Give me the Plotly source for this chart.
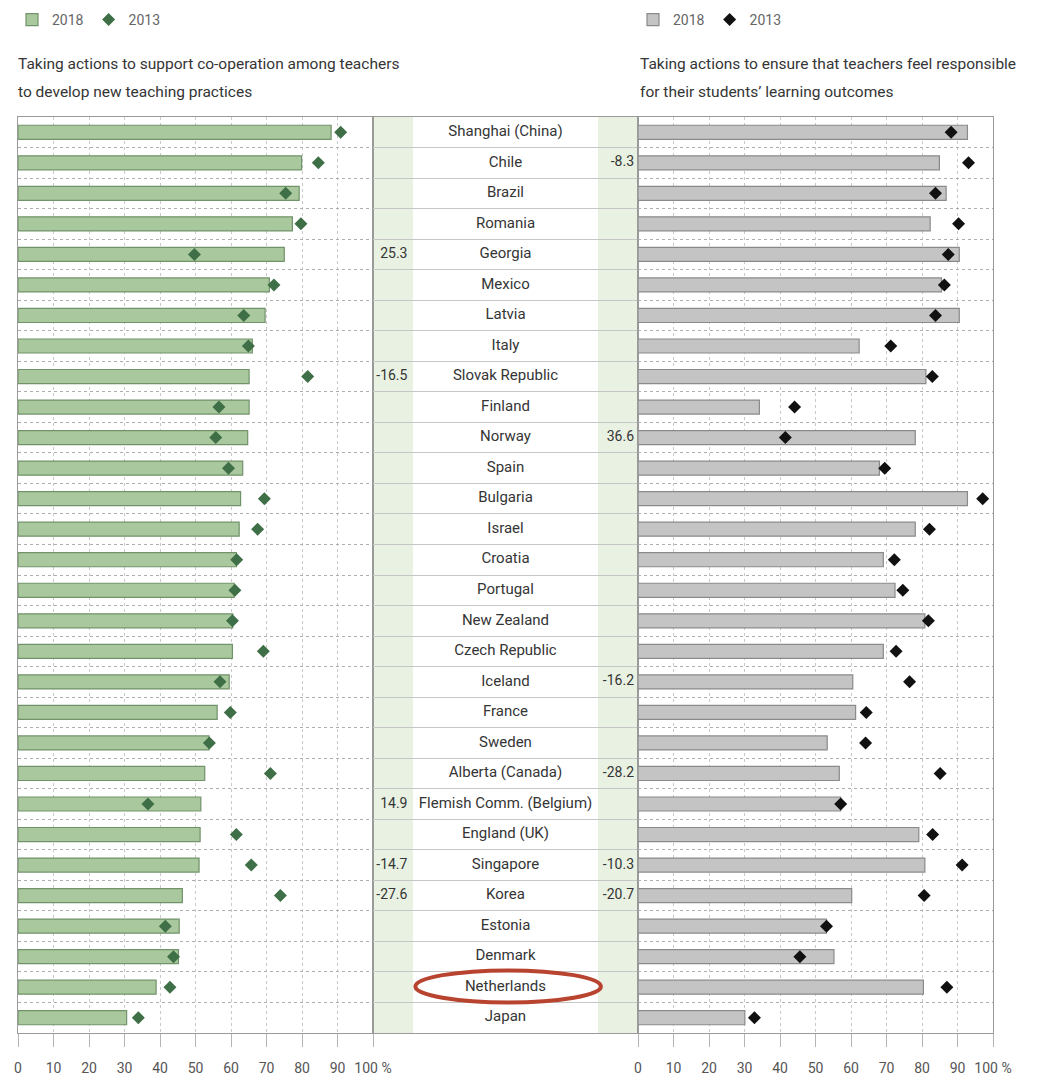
import plotly.graph_objects as go

countries = ["Shanghai (China)", "Chile", "Brazil", "Romania", "Georgia", "Mexico", "Latvia", "Italy",
             "Slovak Republic", "Finland", "Norway", "Spain", "Bulgaria", "Israel", "Croatia", "Portugal",
             "New Zealand", "Czech Republic", "Iceland", "France", "Sweden", "Alberta (Canada)",
             "Flemish Comm. (Belgium)", "England (UK)", "Singapore", "Korea", "Estonia", "Denmark",
             "Netherlands", "Japan"]

coop_2018 = [88.2, 79.9, 79.2, 77.3, 75.0, 70.8, 69.6, 66.0, 65.1, 65.1, 64.7, 63.3, 62.7, 62.3, 61.5,
             60.9, 60.5, 60.4, 59.5, 56.1, 53.8, 52.6, 51.5, 51.3, 51.0, 46.3, 45.4, 45.2, 38.9, 30.6]
coop_2013 = [90.9, 84.6, 75.4, 79.7, 49.7, 72.1, 63.6, 64.9, 81.6, 56.6, 55.7, 59.3, 69.4, 67.5, 61.6,
             61.1, 60.4, 69.1, 56.9, 59.8, 53.9, 71.1, 36.6, 61.5, 65.7, 73.9, 41.5, 43.8, 42.8, 33.9]
resp_2018 = [92.8, 84.9, 86.8, 82.3, 90.5, 85.5, 90.5, 62.3, 81.1, 34.2, 78.1, 68.0, 92.8, 78.1, 69.1,
             72.4, 80.8, 69.1, 60.5, 61.3, 53.3, 56.7, 57.1, 79.1, 80.8, 60.2, 53.1, 55.2, 80.4, 30.1]
resp_2013 = [88.2, 93.1, 83.8, 90.3, 87.4, 86.3, 83.8, 71.2, 82.9, 44.1, 41.5, 69.5, 97.1, 82.1, 72.2,
             74.6, 81.8, 72.7, 76.5, 64.3, 64.1, 85.1, 57.1, 83.0, 91.3, 80.6, 53.1, 45.6, 87.0, 32.8]

coop_diff = {"Georgia": "25.3", "Slovak Republic": "-16.5", "Flemish Comm. (Belgium)": "14.9",
             "Singapore": "-14.7", "Korea": "-27.6"}
resp_diff = {"Chile": "-8.3", "Norway": "36.6", "Iceland": "-16.2", "Alberta (Canada)": "-28.2",
             "Singapore": "-10.3", "Korea": "-20.7"}

tick_vals = [0, 10, 20, 30, 40, 50, 60, 70, 80, 90, 100]
tick_text = ["0", "10", "20", "30", "40", "50", "60", "70", "80", "90", "100 %"]

title_left = ["Taking actions to support co-operation among teachers", "to develop new teaching practices"]
title_right = ["Taking actions to ensure that teachers feel responsible", "for their students’ learning outcomes"]
highlight = "Netherlands"

W, H = 1048, 1077
FONT = "Roboto, Liberation Sans, sans-serif"
TXT = "#353535"
N = len(countries)

def px_x(p):
    return p / W

def px_y(p):
    return 1 - p / H

ydom = [px_y(1033), px_y(117)]

fig = go.Figure()

# left panel
fig.add_trace(go.Bar(x=coop_2018, y=countries, orientation="h", width=0.46,
                     marker=dict(color="#aac89d", line=dict(color="#71926a", width=1.2)),
                     name="2018", xaxis="x", yaxis="y", legend="legend"))
fig.add_trace(go.Scatter(x=coop_2013, y=countries, mode="markers",
                         marker=dict(symbol="diamond", size=10, color="#3e6f47"),
                         name="2013", xaxis="x", yaxis="y", legend="legend"))
# right panel
fig.add_trace(go.Bar(x=resp_2018, y=countries, orientation="h", width=0.46,
                     marker=dict(color="#c4c4c4", line=dict(color="#8a8a8a", width=1.2)),
                     name="2018", xaxis="x3", yaxis="y3", legend="legend2"))
fig.add_trace(go.Scatter(x=resp_2013, y=countries, mode="markers",
                         marker=dict(symbol="diamond", size=10, color="#111111"),
                         name="2013", xaxis="x3", yaxis="y3", legend="legend2"))
# centre labels
fig.add_trace(go.Scatter(x=[0.5] * N, y=countries, mode="text", text=countries,
                         textfont=dict(family=FONT, size=15, color=TXT), showlegend=False,
                         xaxis="x2", yaxis="y2", hoverinfo="skip"))
fig.add_trace(go.Scatter(x=[0.13] * N, y=countries, mode="text",
                         text=[coop_diff.get(c, "") for c in countries], textposition="middle left",
                         textfont=dict(family=FONT, size=14, color=TXT), showlegend=False,
                         xaxis="x2", yaxis="y2", hoverinfo="skip"))
fig.add_trace(go.Scatter(x=[0.985] * N, y=countries, mode="text",
                         text=[resp_diff.get(c, "") for c in countries], textposition="middle left",
                         textfont=dict(family=FONT, size=14, color=TXT), showlegend=False,
                         xaxis="x2", yaxis="y2", hoverinfo="skip"))

grid_common = dict(showline=True, mirror=True, linecolor="#9a9a9a", linewidth=1, zeroline=False,
                   automargin=False)
xnum = dict(range=[0, 100], tickvals=tick_vals, ticktext=tick_text, showgrid=True,
            gridcolor="#c9c9c9", griddash="dot", ticks="outside", ticklen=13, tickcolor="#b5b5b5",
            ticklabelstandoff=9, tickfont=dict(family=FONT, size=14, color="#555555"), fixedrange=True,
            **grid_common)
ycat = dict(type="category", categoryorder="array", categoryarray=countries, range=[N - 0.5, -0.5],
            autorange=False, tickson="boundaries", showticklabels=False, ticks="", showgrid=True,
            gridcolor="#adadad", griddash="dot", domain=ydom, **grid_common)
ycat_mid = dict(ycat, griddash="solid", gridcolor="#c6c6c6")

annots = []
for lines, x0 in ((title_left, 16), (title_right, 638)):
    for k, line in enumerate(lines):
        annots.append(dict(text=line, xref="paper", yref="paper", x=px_x(x0), y=px_y(64 + 28 * k),
                           xanchor="left", yanchor="middle", align="left", showarrow=False,
                           font=dict(family=FONT, size=15.5, color=TXT)))

fig.update_layout(
    width=W, height=H, autosize=False,
    margin=dict(l=0, r=0, t=0, b=0, pad=0, autoexpand=False),
    paper_bgcolor="white", plot_bgcolor="rgba(0,0,0,0)",
    font=dict(family=FONT, color=TXT),
    barmode="overlay",
    xaxis=dict(domain=[px_x(18), px_x(373)], anchor="y", **xnum),
    yaxis=dict(anchor="x", **ycat),
    xaxis2=dict(domain=[px_x(373), px_x(638)], anchor="y2", range=[0, 1], showgrid=False,
                showticklabels=False, ticks="", **grid_common),
    yaxis2=dict(anchor="x2", **ycat_mid),
    xaxis3=dict(domain=[px_x(638), px_x(993)], anchor="y3", **xnum),
    yaxis3=dict(anchor="x3", **ycat),
    legend=dict(x=px_x(12), y=px_y(4), xanchor="left", yanchor="top", orientation="h",
                font=dict(family=FONT, size=14, color="#666666"), bgcolor="rgba(0,0,0,0)",
                itemwidth=30, tracegroupgap=0),
    legend2=dict(x=px_x(633), y=px_y(4), xanchor="left", yanchor="top", orientation="h",
                 font=dict(family=FONT, size=14, color="#666666"), bgcolor="rgba(0,0,0,0)",
                 itemwidth=30, tracegroupgap=0),
    showlegend=True,
    shapes=[
        dict(type="rect", xref="x2", yref="y2 domain", x0=0, x1=40 / 265, y0=0, y1=1,
             fillcolor="#e8f1e2", line=dict(width=0), layer="below"),
        dict(type="rect", xref="x2", yref="y2 domain", x0=225 / 265, x1=1, y0=0, y1=1,
             fillcolor="#e8f1e2", line=dict(width=0), layer="below"),
        dict(type="circle", xref="x2", yref="y2", x0=0.16, x1=0.86,
             y0=countries.index(highlight) - 0.55, y1=countries.index(highlight) + 0.5,
             line=dict(color="#b8432e", width=4), layer="above"),
    ],
    annotations=annots,
)

fig.write_html("out.html", config={"displayModeBar": False},
               post_script="document.body.style.margin='0';document.body.style.overflow='hidden';")
